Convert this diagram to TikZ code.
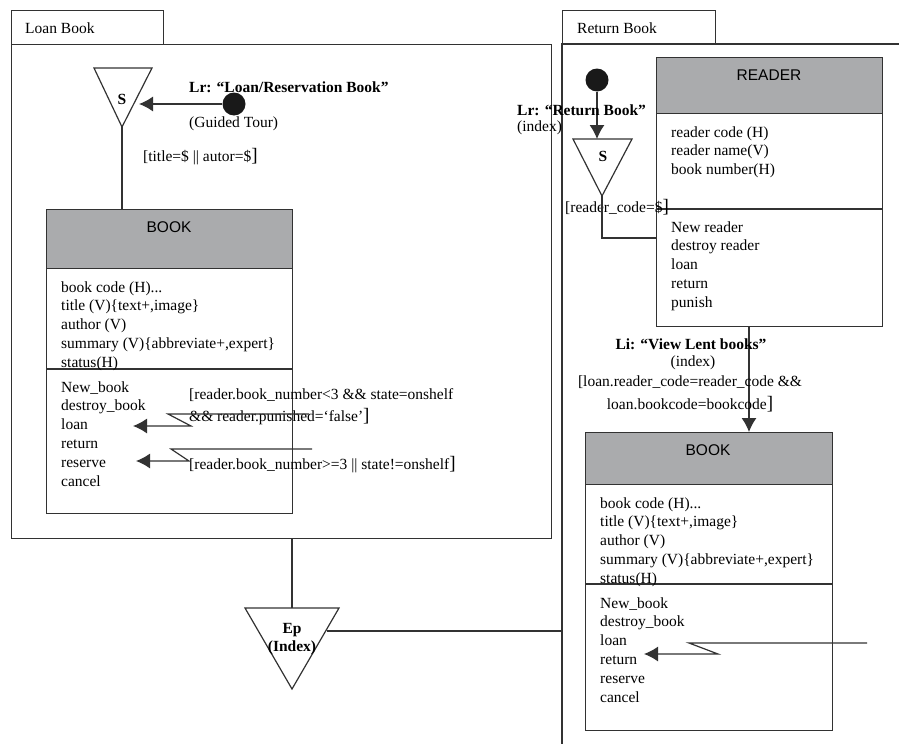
\documentclass[tikz,border=0pt]{standalone}
\usepackage{fontspec}
\setmainfont{Liberation Serif}
\setsansfont{Liberation Sans}
\usetikzlibrary{arrows.meta}

\definecolor{ink}{RGB}{50,50,50}
\definecolor{headgray}{RGB}{170,171,173}
\definecolor{dotblack}{RGB}{25,25,25}

% closing bracket of guard conditions, set a little larger
\newcommand\bigbr{{\fontsize{19}{19}\selectfont]}}
\newcommand\trail{...}

\tikzset{
  framebox/.style={draw=ink, line width=1.2pt, inner sep=0, anchor=north west},
  conn/.style={draw=ink, line width=1.2pt},
  arrowconn/.style={conn, -{Latex[length=14pt,width=15pt]}},
  classhead/.style={draw=ink, fill=headgray, line width=1.2pt, inner sep=0, anchor=north west},
  classbody/.style={draw=ink, fill=white, line width=1.2pt, inner sep=0, anchor=north west},
  ctitle/.style={font=\sffamily\fontsize{15.5}{18}\selectfont, inner sep=0},
  item/.style={font=\fontsize{15.5}{19}\selectfont, inner sep=0, anchor=base west},
  lbl/.style={font=\fontsize{15.5}{19}\selectfont, inner sep=0, anchor=west},
  blbl/.style={lbl, font=\bfseries\fontsize{15.5}{19}\selectfont},
  startdot/.style={circle, fill=dotblack, draw=none, minimum size=23pt, inner sep=0},
}

\begin{document}
\begin{tikzpicture}[x=1pt, y=-1pt]
\useasboundingbox (0,0) rectangle (899,744);

% ---------------- Loan Book frame ----------------
\node[framebox, minimum width=152pt, minimum height=34pt] (loanTab) at (11,10) {};
\node[framebox, minimum width=540pt, minimum height=494pt] (loanF) at (11,44) {};
\node[lbl] (loanTabT) at (25,28) {Loan Book};

% entry point S
\coordinate (sLtl) at (94,68);
\coordinate (sLtr) at (152,68);
\coordinate (sLap) at (122,127);
\draw[conn, line join=miter] (sLtl) -- (sLtr) -- (sLap) -- cycle;
\node[blbl, anchor=center] (sL) at (122,99) {S};

\node[startdot] (startL) at (234,104) {};
\coordinate (sLin) at (139,104);
\draw[arrowconn] (startL) -- (sLin);
\node[blbl] (lrL) at (189,87) {Lr: ``Loan/Reservation Book''};
\node[lbl] (lrLi) at (189,124) {(Guided Tour)};
\node[lbl] (gdL0) at (143,157) {[title=\$ || autor=\$\bigbr};

% class BOOK (left)
\node[classhead, minimum width=246pt, minimum height=59pt] (bkLh) at (46,209) {};
\node[classbody, minimum width=246pt, minimum height=245pt] (bkLb) at (46,268) {};
\draw[conn] (46,369) -- (292,369);
\node[ctitle] (bkLt) at (169,227) {BOOK};
\draw[conn] (sLap) -- (sLap |- bkLh.north);

\foreach \t [count=\i from 0] in {{book code (H)\trail}, {title (V)\{text+,image\}}, {author (V)}, {summary (V)\{abbreviate+,expert\}}, {status(H)}}
  \node[item] (bkLa\i) at (61,{292+18.9*\i}) {\t};
\foreach \t [count=\i from 0] in {New\_book, destroy\_book, loan, return, reserve, cancel}
  \node[item] (bkLo\i) at (61,{392+18.9*\i}) {\t};

% guarded links to loan / reserve
\node[lbl] (gdL1) at (189,395) {[reader.book\_number<3 \&\& state=onshelf};
\node[lbl] (gdL2) at (189,417) {\&\& reader.punished=`false'\bigbr};
\node[lbl] (gdL3) at (189,465) {[reader.book\_number>=3 || state!=onshelf\bigbr};

\coordinate (zl1) at (309,414);
\coordinate (zl2) at (168,414);
\coordinate (zl3) at (191,426);
\coordinate (zl4) at (133,426);
\draw[arrowconn, line join=miter] (zl1) -- (zl2) -- (zl3) -- (zl4);

\coordinate (zr1) at (312,449);
\coordinate (zr2) at (171,449);
\coordinate (zr3) at (189,461);
\coordinate (zr4) at (136,461);
\draw[arrowconn, line join=miter] (zr1) -- (zr2) -- (zr3) -- (zr4);

% ---------------- exit point Ep ----------------
\coordinate (epTl) at (245,608);
\coordinate (epTr) at (339,608);
\coordinate (epAp) at (292,689);
\coordinate (epTop) at (292,608);
\draw[conn, line join=miter] (epTl) -- (epTr) -- (epAp) -- cycle;
\node[blbl, anchor=center] (epT1) at (292,630) {Ep};
\node[blbl, anchor=center] (epT2) at (292,648) {(Index)};
\draw[conn] (epTop |- loanF.south) -- (epTop);

% ---------------- Return Book frame ----------------
\node[framebox, minimum width=153pt, minimum height=34pt] (retTab) at (562,10) {};
\node[lbl] (retTabT) at (577,28) {Return Book};
\coordinate (retTop) at (899,44);
\coordinate (retCorner) at (562,44);
\coordinate (retBot) at (562,744);
\draw[conn] (retTop) -- (retCorner) -- (retBot);

\coordinate (epR) at (327,631);
\draw[conn] (epR) -- (epR -| retCorner);

% class READER
\node[classhead, minimum width=226pt, minimum height=56pt] (rdH) at (656,57) {};
\node[classbody, minimum width=226pt, minimum height=213pt] (rdB) at (656,113) {};
\draw[conn] (656,209) -- (882,209);
\node[ctitle] (rdT) at (769,75) {READER};
\foreach \t [count=\i from 0] in {{reader code (H)}, {reader name(V)}, {book number(H)}}
  \node[item] (rdA\i) at (671,{137+18.9*\i}) {\t};
\foreach \t [count=\i from 0] in {{New reader}, {destroy reader}, loan, return, punish}
  \node[item] (rdO\i) at (671,{232+18.9*\i}) {\t};

% entry point S (return)
\coordinate (sRtl) at (573,139);
\coordinate (sRtr) at (632,139);
\coordinate (sRap) at (602,196);
\draw[conn, line join=miter] (sRtl) -- (sRtr) -- (sRap) -- cycle;
\node[blbl, anchor=center] (sR) at (603,156) {S};

\node[startdot] (startR) at (597,80) {};
\coordinate (sRin) at (597,139);
\draw[arrowconn] (startR) -- (sRin);
\node[blbl] (lrR) at (517,110) {Lr: ``Return Book''};
\node[lbl] (lrRi) at (517,128) {(index)};
\node[lbl] (gdR) at (565,207) {[reader\_code=\$\bigbr};

\coordinate (sRbend) at (602,238);
\draw[conn] (sRap) -- (sRbend) -- (sRbend -| rdB.west);

% class BOOK (right)
\node[classhead, minimum width=247pt, minimum height=52pt] (bkRh) at (585,432) {};
\node[classbody, minimum width=247pt, minimum height=246pt] (bkRb) at (585,484) {};
\draw[conn] (585,584) -- (832,584);
\node[ctitle] (bkRt) at (708,450) {BOOK};
\foreach \t [count=\i from 0] in {{book code (H)\trail}, {title (V)\{text+,image\}}, {author (V)}, {summary (V)\{abbreviate+,expert\}}, {status(H)}}
  \node[item] (bkRa\i) at (600,{508+18.9*\i}) {\t};
\foreach \t [count=\i from 0] in {New\_book, destroy\_book, loan, return, reserve, cancel}
  \node[item] (bkRo\i) at (600,{608+18.9*\i}) {\t};

% index link READER -> BOOK
\coordinate (liX) at (749,0);
\draw[arrowconn] (rdB.south -| liX) -- (bkRh.north -| liX);
\node[blbl, anchor=center] (liR) at (691,344) {Li: ``View Lent books''};
\node[lbl, anchor=center] (liRi) at (693,363) {(index)};
\node[lbl, anchor=center] (liR2) at (690,382) {[loan.reader\_code=reader\_code \&\&};
\node[lbl, anchor=center] (liR3) at (690,404) {loan.bookcode=bookcode\bigbr};

% link into return
\coordinate (zq1) at (867,643);
\coordinate (zq2) at (689,643);
\coordinate (zq3) at (718,654);
\coordinate (zq4) at (644,654);
\draw[arrowconn, line join=miter] (zq1) -- (zq2) -- (zq3) -- (zq4);

\end{tikzpicture}
\end{document}
